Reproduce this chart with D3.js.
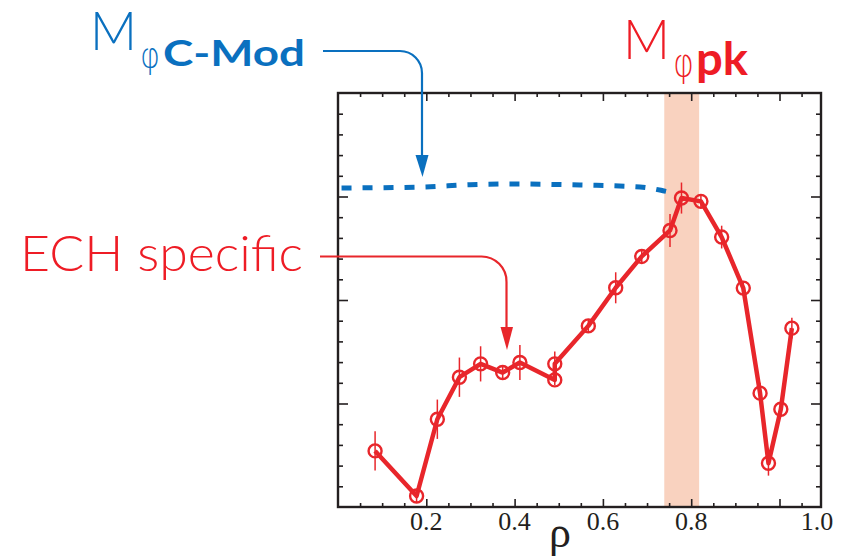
<!DOCTYPE html>
<html>
<head>
<meta charset="utf-8">
<script src="https://cdn.jsdelivr.net/npm/d3@7"></script>
<style>
  html, body { margin: 0; padding: 0; background: #fff; }
  svg { display: block; }
</style>
</head>
<body>
<svg id="chart" width="841" height="557"></svg>
<script>
// ---- data ----
const rho      = [0.084, 0.178, 0.225, 0.275, 0.323, 0.373, 0.412, 0.491, 0.491, 0.567, 0.629, 0.688, 0.752, 0.778, 0.822, 0.869, 0.918, 0.956, 0.975, 1.003, 1.028];
const mPhi     = [0.542, 0.106, 0.848, 1.254, 1.383, 1.299, 1.396, 1.228, 1.383, 1.750, 2.118, 2.421, 2.672, 2.985, 2.953, 2.608, 2.115, 1.100, 0.423, 0.945, 1.728];
const mPhiErr  = [0.19, 0.06, 0.19, 0.19, 0.17, 0.07, 0.17, 0.05, 0.12, 0.06, 0.15, 0.06, 0.16, 0.15, 0.06, 0.11, 0.06, 0.10, 0.12, 0.06, 0.10];
const cmodRho  = [0.008, 0.193, 0.299, 0.396, 0.548, 0.684, 0.736, 0.747];
const cmodVal  = [3.082, 3.092, 3.114, 3.121, 3.111, 3.092, 3.056, 3.046];
const peakBand = [0.739, 0.818];
const xTickValues = [0.2, 0.4, 0.6, 0.8, 1.0];
const xTickLabels = ["0.2", "0.4", "0.6", "0.8", "1.0"];
const xAxisTitle = "ρ";

const RED = "#e8262b", TRED = "#ee1c25", BLUE = "#0a70bf", AXIS = "#231f20";

const svg = d3.select("#chart");
const x = d3.scaleLinear().domain([0, 1.094]).range([338, 821]);
const y = d3.scaleLinear().domain([0, 4]).range([507, 93]);
const [x0, x1] = x.range(), [y0, y1] = y.range();

// shaded peak band
svg.append("rect")
  .attr("x", x(peakBand[0])).attr("width", x(peakBand[1]) - x(peakBand[0]))
  .attr("y", y1).attr("height", y0 - y1)
  .attr("fill", "#f9d2bf");

// C-Mod dashed profile
const cmod = cmodRho.map((r, i) => [r, cmodVal[i]]);
svg.append("path")
  .attr("d", d3.line().x(d => x(d[0])).y(d => y(d[1])).curve(d3.curveMonotoneX)(cmod))
  .attr("fill", "none").attr("stroke", BLUE).attr("stroke-width", 5)
  .attr("stroke-dasharray", "10,11");

// axes frame with inward ticks
const minorX = d3.range(0.05, 1.09, 0.05).filter(v => xTickValues.every(t => Math.abs(t - v) > 1e-6));
const minorY = d3.range(0.2, 4, 0.2).filter(v => Math.abs(v - Math.round(v)) > 1e-6);
const majorY = [1, 2, 3];

function tickAxis(axisFn, scale, pos, vals, size) {
  const g = svg.append("g").attr("transform", pos)
    .call(axisFn(scale).tickValues(vals).tickSize(-size).tickFormat(""));
  g.select(".domain").remove();
  g.selectAll("line").attr("stroke", AXIS).attr("stroke-width", 1.6);
  return g;
}
[[d3.axisBottom, `translate(0,${y0})`], [d3.axisTop, `translate(0,${y1})`]].forEach(([fn, tr]) => {
  tickAxis(fn, x, tr, minorX, 4);
  tickAxis(fn, x, tr, xTickValues, 8);
});
[[d3.axisLeft, `translate(${x0},0)`], [d3.axisRight, `translate(${x1},0)`]].forEach(([fn, tr]) => {
  tickAxis(fn, y, tr, minorY, 5);
  tickAxis(fn, y, tr, majorY, 10);
});
svg.append("rect")
  .attr("x", x0).attr("y", y1).attr("width", x1 - x0).attr("height", y0 - y1)
  .attr("fill", "none").attr("stroke", AXIS).attr("stroke-width", 2.4);

// tick labels
svg.append("g").selectAll("text").data(xTickValues).join("text")
  .attr("x", (d, i) => i === xTickValues.length - 1 ? x1 - 4 : x(d))
  .attr("y", y0 + 23)
  .attr("text-anchor", "middle")
  .attr("font-family", "'Liberation Serif', 'Times New Roman', serif")
  .attr("font-size", 26).attr("fill", AXIS)
  .text((d, i) => xTickLabels[i]);

svg.append("text")
  .attr("x", 560).attr("y", 547)
  .attr("text-anchor", "middle")
  .attr("font-family", "'Liberation Serif', 'Times New Roman', serif")
  .attr("font-size", 44).attr("fill", AXIS)
  .text(xAxisTitle);

// measured profile
const pts = rho.map((r, i) => ({ r, v: mPhi[i], e: mPhiErr[i] }));
svg.append("g").selectAll("line").data(pts).join("line")
  .attr("x1", d => x(d.r)).attr("x2", d => x(d.r))
  .attr("y1", d => y(d.v - d.e)).attr("y2", d => y(d.v + d.e))
  .attr("stroke", RED).attr("stroke-width", 1.5);
svg.append("path")
  .attr("d", d3.line().x(d => x(d.r)).y(d => y(d.v))(pts))
  .attr("fill", "none").attr("stroke", RED).attr("stroke-width", 4.5)
  .attr("stroke-linejoin", "round");
svg.append("g").selectAll("circle").data(pts).join("circle")
  .attr("cx", d => x(d.r)).attr("cy", d => y(d.v)).attr("r", 6.5)
  .attr("fill", "none").attr("stroke", RED).attr("stroke-width", 2.4);

// annotations
const SANS = "Lato, 'Open Sans', sans-serif";
const GREEK = "'DejaVu Sans', 'Liberation Sans', sans-serif";
function txt(xp, yp, color, s, size, weight, family, len) {
  const t = svg.append("text").attr("x", xp).attr("y", yp).attr("fill", color)
    .attr("font-family", family || SANS).attr("font-size", size).attr("font-weight", weight).text(s);
  if (len) t.attr("textLength", len).attr("lengthAdjust", "spacingAndGlyphs");
  return t;
}
// M_phi C-Mod
txt(90, 50, BLUE, "M", 53, 300, SANS, 47);
txt(140, 68, BLUE, "φ", 36, 300, GREEK, 20);
txt(163, 66, BLUE, "C-Mod", 37, 700, SANS, 142);
// M_phi pk
txt(623, 59, TRED, "M", 55, 300, SANS, 47);
txt(673, 76, TRED, "φ", 37, 300, GREEK, 21);
txt(696, 75, TRED, "pk", 45, 700, SANS, 52);
// ECH specific
txt(20, 271, TRED, "ECH specific", 50, 300, SANS, 283);

// arrows
svg.append("path")
  .attr("d", "M323,51 H400 A22,22 0 0 1 422,73 V158")
  .attr("fill", "none").attr("stroke", BLUE).attr("stroke-width", 2.2);
svg.append("path").attr("d", "M415.5,155 L428.5,155 L422.5,177 Z").attr("fill", BLUE);

svg.append("path")
  .attr("d", "M320,256.5 H481 A25,25 0 0 1 506.5,282 V330")
  .attr("fill", "none").attr("stroke", RED).attr("stroke-width", 2.2);
svg.append("path").attr("d", "M500.5,327 L513,327 L507,350 Z").attr("fill", RED);
</script>
</body>
</html>
